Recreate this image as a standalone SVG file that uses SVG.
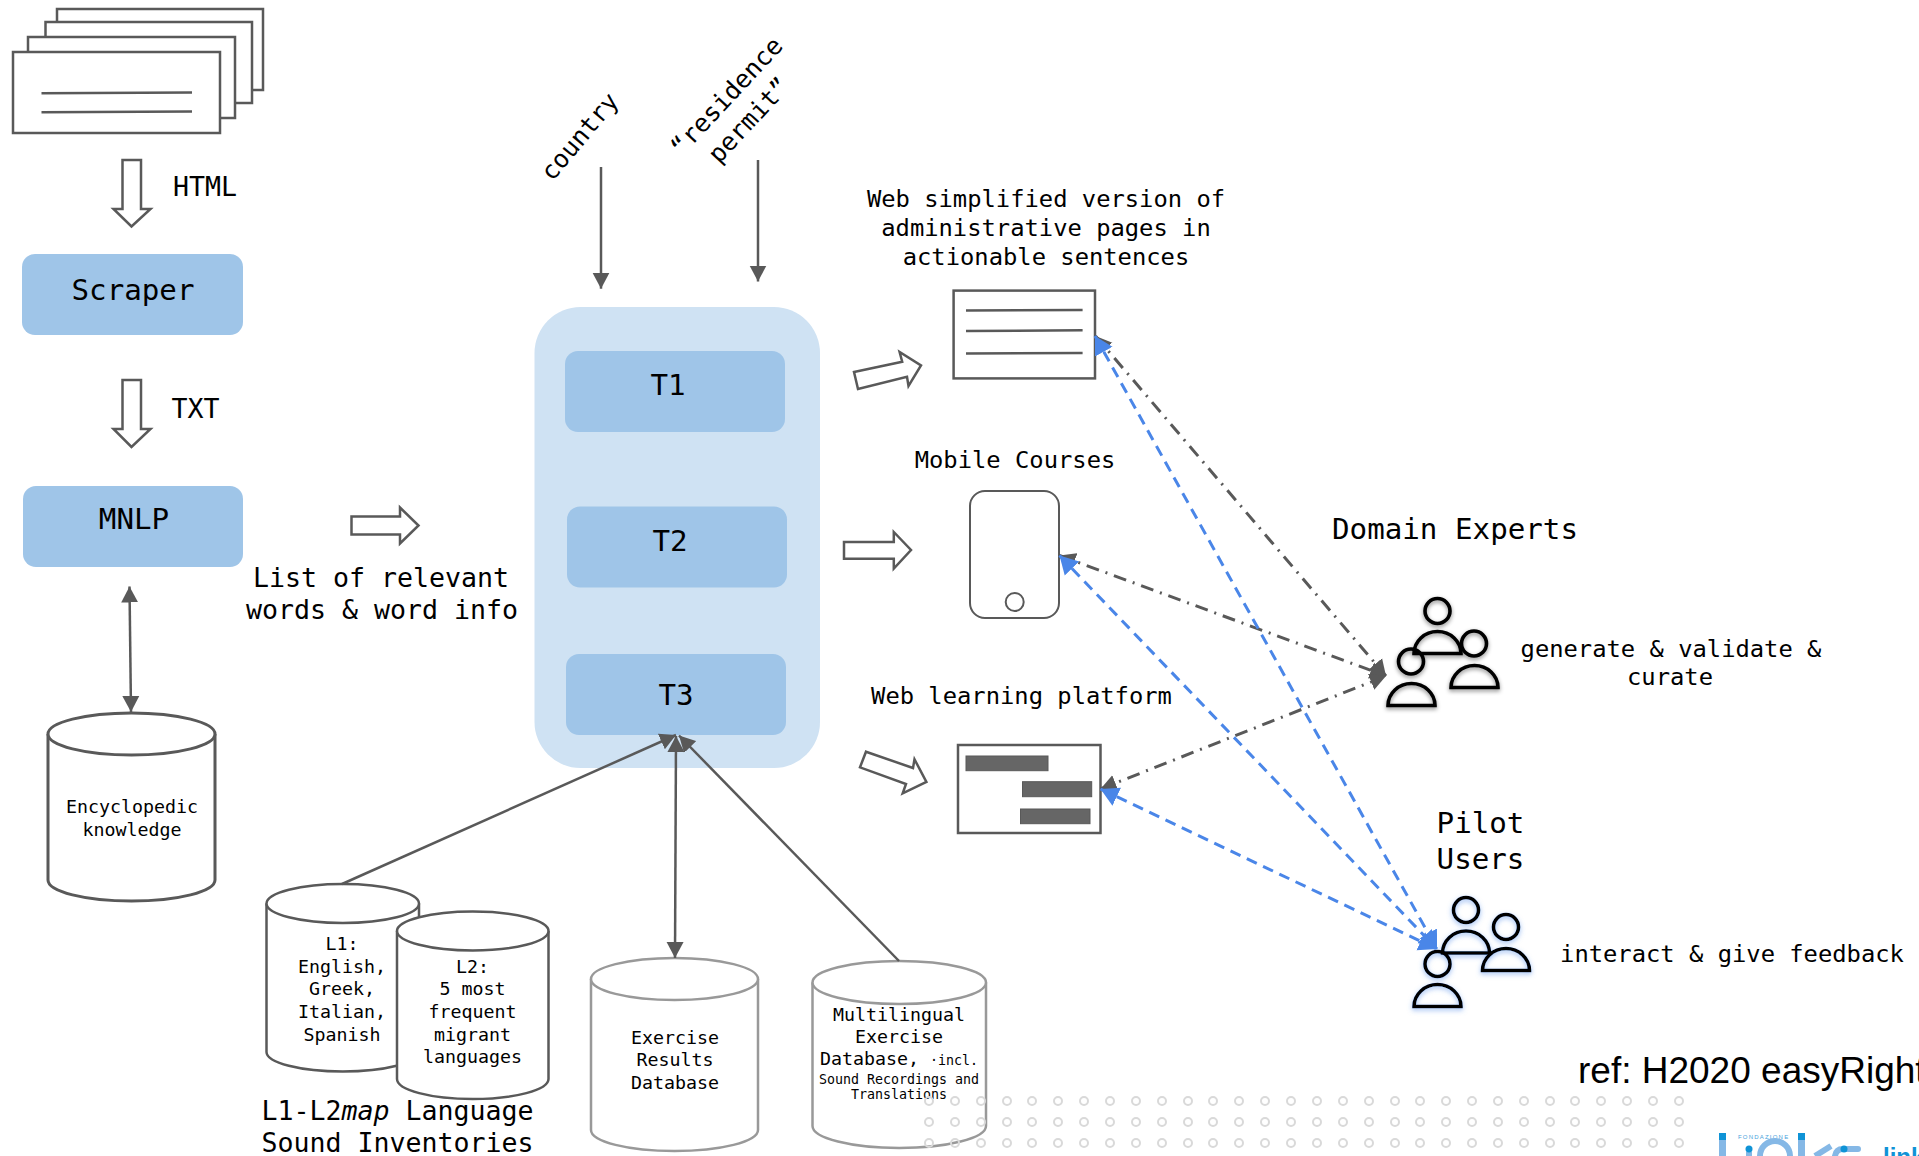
<svg xmlns="http://www.w3.org/2000/svg" width="1919" height="1156" viewBox="0 0 1919 1156">
<style>
text{font-family:"DejaVu Sans Mono","Liberation Mono",monospace;fill:#000;text-anchor:middle}
.s{font-size:18.3px}.xs{font-size:13.3px}.m{font-size:23.8px}.l{font-size:26.6px}.xl{font-size:29.2px}.r{font-size:25px}
.page{fill:#fff;stroke:#595959;stroke-width:2.5}
.ln{fill:none;stroke:#595959;stroke-width:2.5}
.hollow{fill:#fff;stroke:#595959;stroke-width:2.5}
.box{fill:#9fc5e8}
.cyl{fill:#fff;stroke:#595959;stroke-width:3}
.cyl2{fill:#fff;stroke:#999;stroke-width:2.5}
.solid{fill:none;stroke:#595959;stroke-width:2.5}
.gd{fill:none;stroke:#595959;stroke-width:3;stroke-dasharray:13 7 2 7}
.bd{fill:none;stroke:#4a86e8;stroke-width:3;stroke-dasharray:11 7}
.bar{fill:#666;stroke:#595959;stroke-width:1}
.p{fill:none;stroke:#000;stroke-width:3.6}
.dot{fill:none;stroke:#d9d9d9;stroke-width:2}
</style>
<defs>
<marker id="g" markerUnits="userSpaceOnUse" markerWidth="18" markerHeight="18" refX="16" refY="9" orient="auto-start-reverse"><path d="M0 0.5L16 9L0 17.5Z" fill="#595959"/></marker>
<marker id="b" markerUnits="userSpaceOnUse" markerWidth="20" markerHeight="22" refX="18" refY="11" orient="auto-start-reverse"><path d="M0 1L18 11L0 21Z" fill="#4a86e8"/></marker>
<filter id="sk" x="-30%" y="-30%" width="160%" height="160%"><feDropShadow dx="0" dy="2" stdDeviation="2" flood-color="#000" flood-opacity=".45"/></filter>
<filter id="sb" x="-30%" y="-30%" width="160%" height="160%"><feDropShadow dx="0" dy="2" stdDeviation="2.5" flood-color="#4a86e8" flood-opacity=".55"/></filter>
<g id="dotrow">
<circle class="dot" cx="929" cy="0" r="4"/><circle class="dot" cx="955" cy="0" r="4"/><circle class="dot" cx="981" cy="0" r="4"/><circle class="dot" cx="1007" cy="0" r="4"/><circle class="dot" cx="1032" cy="0" r="4"/><circle class="dot" cx="1058" cy="0" r="4"/><circle class="dot" cx="1084" cy="0" r="4"/><circle class="dot" cx="1110" cy="0" r="4"/><circle class="dot" cx="1136" cy="0" r="4"/><circle class="dot" cx="1162" cy="0" r="4"/><circle class="dot" cx="1188" cy="0" r="4"/><circle class="dot" cx="1213" cy="0" r="4"/><circle class="dot" cx="1239" cy="0" r="4"/><circle class="dot" cx="1265" cy="0" r="4"/><circle class="dot" cx="1291" cy="0" r="4"/><circle class="dot" cx="1317" cy="0" r="4"/><circle class="dot" cx="1343" cy="0" r="4"/><circle class="dot" cx="1369" cy="0" r="4"/><circle class="dot" cx="1395" cy="0" r="4"/><circle class="dot" cx="1420" cy="0" r="4"/><circle class="dot" cx="1446" cy="0" r="4"/><circle class="dot" cx="1472" cy="0" r="4"/><circle class="dot" cx="1498" cy="0" r="4"/><circle class="dot" cx="1524" cy="0" r="4"/><circle class="dot" cx="1550" cy="0" r="4"/><circle class="dot" cx="1575" cy="0" r="4"/><circle class="dot" cx="1601" cy="0" r="4"/><circle class="dot" cx="1627" cy="0" r="4"/><circle class="dot" cx="1653" cy="0" r="4"/><circle class="dot" cx="1679" cy="0" r="4"/>
</g>
</defs>
<rect width="1919" height="1156" fill="#fff"/>

<g id="web-pages">
<rect class="page" x="57" y="9" width="206" height="81"/>
<rect class="page" x="45.5" y="22" width="206.5" height="81"/>
<rect class="page" x="28" y="37" width="207" height="81"/>
<rect class="page" x="13" y="52" width="207" height="81"/>
<path class="ln" d="M41.5 93.3L192 92.6M41.5 112.3L192 111.6"/>
</g>
<g id="scraper"><rect class="box" x="22" y="254" width="221" height="81" rx="13"/><text class="xl" x="133" y="300">Scraper</text></g>
<g id="mnlp"><rect class="box" x="23" y="486" width="220" height="81" rx="13"/><text class="xl" x="134" y="529">MNLP</text></g>
<g id="html-label"><text class="l" x="205" y="195.500">HTML</text></g>
<g id="txt-label"><text class="l" x="195.500" y="418">TXT</text></g>
<g id="word-list"><text class="l" x="381" y="587">List of relevant</text><text class="l" x="382" y="619">words &amp; word info</text></g>

<g id="encyclopedic">
<path class="cyl" d="M48 734V880A83.500 21 0 0 0 215 880V734"/><ellipse class="cyl" cx="131.500" cy="734" rx="83.500" ry="21"/>
<text class="s" x="132" y="813">Encyclopedic</text><text class="s" x="132" y="836">knowledge</text>
</g>
<g id="l1">
<path class="cyl" style="stroke-width:2.5" d="M266.500 903.500V1052A76.250 19.500 0 0 0 419 1052V903.500"/><ellipse class="cyl" style="stroke-width:2.5" cx="342.750" cy="903.500" rx="76.250" ry="19.500"/>
<text class="s" x="342" y="950">L1:</text><text class="s" x="342" y="973">English,</text><text class="s" x="342" y="995">Greek,</text><text class="s" x="342" y="1018">Italian,</text><text class="s" x="342" y="1041">Spanish</text>
</g>
<g id="l2">
<path class="cyl" style="stroke-width:2.5" d="M397 931V1079A75.750 20 0 0 0 548.500 1079V931"/><ellipse class="cyl" style="stroke-width:2.5" cx="472.750" cy="931" rx="75.750" ry="19.500"/>
<text class="s" x="472.500" y="973">L2:</text><text class="s" x="472.500" y="995">5 most</text><text class="s" x="472.500" y="1018">frequent</text><text class="s" x="472.500" y="1041">migrant</text><text class="s" x="472.500" y="1063">languages</text>
</g>
<g id="l1l2-caption"><text class="l" x="397.500" y="1120">L1-L2<tspan font-style="italic">map</tspan> Language</text><text class="l" x="397.500" y="1152">Sound Inventories</text></g>
<g id="exercise-results">
<path class="cyl2" d="M591 979V1130A83.500 21 0 0 0 758 1130V979"/><ellipse class="cyl2" cx="674.500" cy="979" rx="83.500" ry="21"/>
<text class="s" x="675" y="1044">Exercise</text><text class="s" x="675" y="1066">Results</text><text class="s" x="675" y="1089">Database</text>
</g>
<g id="multilingual">
<path class="cyl2" d="M812.500 982.500V1126A86.750 22 0 0 0 986 1126V982.500"/><ellipse class="cyl2" cx="899.250" cy="982.500" rx="86.750" ry="21.500"/>
<text class="s" x="899" y="1021">Multilingual</text><text class="s" x="899" y="1043">Exercise</text><text class="s" x="899" y="1065">Database, <tspan class="xs">·incl.</tspan></text><text class="xs" x="899" y="1083.500">Sound Recordings and</text><text class="xs" x="899" y="1099">Translations</text>
</g>

<g id="tasks">
<rect x="534.500" y="307" width="285.500" height="461" rx="46" fill="#cfe2f3"/>
<g id="t1"><rect class="box" x="565" y="351" width="220" height="81" rx="13"/><text class="xl" x="668" y="394.500">T1</text></g>
<g id="t2"><rect class="box" x="567" y="506.500" width="220" height="81" rx="13"/><text class="xl" x="670" y="551">T2</text></g>
<g id="t3"><rect class="box" x="566" y="654" width="220" height="81" rx="13"/><text class="xl" x="676" y="704.500">T3</text></g>
</g>

<g id="country-label"><text class="r" transform="translate(586 142) rotate(-50)">country</text></g>
<g id="permit-label"><text class="r" transform="translate(733 102) rotate(-47)">“residence</text><text class="r" transform="translate(755 126) rotate(-47)">permit”</text></g>

<g id="web-version-label"><text class="m" x="1046" y="207">Web simplified version of</text><text class="m" x="1046" y="236">administrative pages in</text><text class="m" x="1046" y="265">actionable sentences</text></g>
<g id="web-doc"><rect class="page" x="953.600" y="290.600" width="141.400" height="87.800"/><path class="ln" d="M966 310.500L1082.600 310M966 331L1082.600 330.300M966 353.500L1082.600 353"/></g>
<g id="mobile-label"><text class="m" x="1015" y="468">Mobile Courses</text></g>
<g id="mobile"><rect x="970" y="491" width="89" height="127" rx="15" fill="#fff" stroke="#595959" stroke-width="2"/><circle cx="1014.700" cy="602" r="9" fill="#fff" stroke="#595959" stroke-width="2"/></g>
<g id="platform-label"><text class="m" x="1021.500" y="704">Web learning platform</text></g>
<g id="platform"><rect class="page" x="958" y="745" width="142.500" height="88"/><rect class="bar" x="966" y="756" width="82" height="14.700"/><rect class="bar" x="1022.500" y="781.700" width="69.200" height="15"/><rect class="bar" x="1020.500" y="809" width="69.500" height="14.700"/></g>

<g id="domain-experts">
<text class="xl" x="1455" y="538.500">Domain Experts</text>
<g filter="url(#sk)"><circle class="p" cx="1437.500" cy="611" r="12.500"/><path class="p" d="M1414 653.500A23.500 22 0 0 1 1461 653.500Z"/><circle class="p" cx="1474" cy="643.500" r="12.500"/><path class="p" d="M1451 687.500A23.500 22 0 0 1 1498 687.500Z"/><circle class="p" cx="1411" cy="661.500" r="12.500"/><path class="p" d="M1388 705.500A23.500 22 0 0 1 1435 705.500Z"/></g>
<text class="m" x="1671" y="657">generate &amp; validate &amp;</text><text class="m" x="1670" y="685">curate</text>
</g>
<g id="pilot-users">
<text class="xl" x="1480.500" y="832.500">Pilot</text><text class="xl" x="1480.500" y="869">Users</text>
<g filter="url(#sb)"><circle class="p" cx="1466" cy="910" r="12.500"/><path class="p" d="M1442.500 953A23.500 22 0 0 1 1489.500 953Z"/><circle class="p" cx="1506" cy="927" r="12.500"/><path class="p" d="M1482.500 970.500A23.500 22 0 0 1 1529.500 970.500Z"/><circle class="p" cx="1437.500" cy="964" r="12.500"/><path class="p" d="M1414 1006.500A23.500 22 0 0 1 1461 1006.500Z"/></g>
<text class="m" x="1732" y="962">interact &amp; give feedback</text>
</g>

<g id="connectors">
<path class="hollow" d="M122.500 160H141V209H150.500L131.500 226.500L113.500 209H122.500Z"/>
<path class="hollow" d="M122.500 380H141V429H150.500L131.500 447L113.500 429H122.500Z"/>
<path class="hollow" d="M351.500 516.600H400V507.500L418.500 525.500L400 543.500V534.600H351.500Z"/>
<path class="hollow" d="M854 372L902.200 361.800L899.600 352L921 365.400L908.500 386L907 376.800L858 389Z"/>
<path class="hollow" d="M844 542H893.800V532L911 550L893.800 568.600V558.700H844Z"/>
<path class="hollow" d="M866 751.700L913 768L914.500 759.300L926.400 782L902.700 793.300L906 784L860 767.300Z"/>
<path class="solid" d="M129.500 586.500L131 712" marker-start="url(#g)" marker-end="url(#g)"/>
<path class="solid" d="M601 167V288.700" marker-end="url(#g)"/>
<path class="solid" d="M758 160V281.500" marker-end="url(#g)"/>
<path class="solid" d="M342 884L676 735" marker-end="url(#g)"/>
<path class="solid" d="M675 958L676 736" marker-start="url(#g)" marker-end="url(#g)"/>
<path class="solid" d="M899 961L679 735.500" marker-end="url(#g)"/>
<path class="gd" d="M1095.500 336L1386 676" marker-start="url(#g)" marker-end="url(#g)"/>
<path class="gd" d="M1059.500 555.500L1386 676" marker-start="url(#g)" marker-end="url(#g)"/>
<path class="gd" d="M1100.500 789L1386 676" marker-start="url(#g)" marker-end="url(#g)"/>
<path class="bd" d="M1095 336L1437 949" marker-start="url(#b)" marker-end="url(#b)"/>
<path class="bd" d="M1059.500 555.500L1437 949" marker-start="url(#b)" marker-end="url(#b)"/>
<path class="bd" d="M1100.500 789L1437 949" marker-start="url(#b)" marker-end="url(#b)"/>
</g>

<g id="dot-grid"><use href="#dotrow" y="1101"/><use href="#dotrow" y="1122"/><use href="#dotrow" y="1143"/></g>
<g id="reference"><text x="1578" y="1083" font-size="37" style="font-family:'Liberation Sans',Arial,sans-serif;text-anchor:start">ref: H2020 easyRights</text></g>
<g id="logo">
<rect x="1719" y="1133" width="7" height="7" fill="#0f93d6"/><rect x="1719" y="1140" width="7" height="16" fill="#85b8e6"/>
<rect x="1798" y="1133" width="7" height="7" fill="#0f93d6"/><rect x="1798" y="1140" width="7" height="16" fill="#85b8e6"/>
<text x="1738" y="1139" font-size="6" letter-spacing="1.200" style="font-family:'Liberation Sans',Arial,sans-serif;text-anchor:start;fill:#4aa3dc">FONDAZIONE</text>
<rect x="1746" y="1152" width="6" height="4" fill="#85b8e6"/><circle cx="1749" cy="1149" r="3.500" fill="#0f93d6"/>
<path d="M1760 1156A15 15 0 0 1 1790 1156" fill="none" stroke="#85b8e6" stroke-width="6"/>
<path d="M1815 1156L1831 1146" stroke="#85b8e6" stroke-width="6" fill="none"/>
<path d="M1835 1156Q1836 1149 1843 1149H1858" stroke="#85b8e6" stroke-width="6" fill="none" stroke-linecap="round"/><circle cx="1844" cy="1149" r="3.500" fill="#0f93d6"/>
<text x="1883" y="1165" font-size="24" font-weight="700" style="font-family:'Liberation Sans',Arial,sans-serif;text-anchor:start;fill:#0f93d6">link</text>
</g>
</svg>
